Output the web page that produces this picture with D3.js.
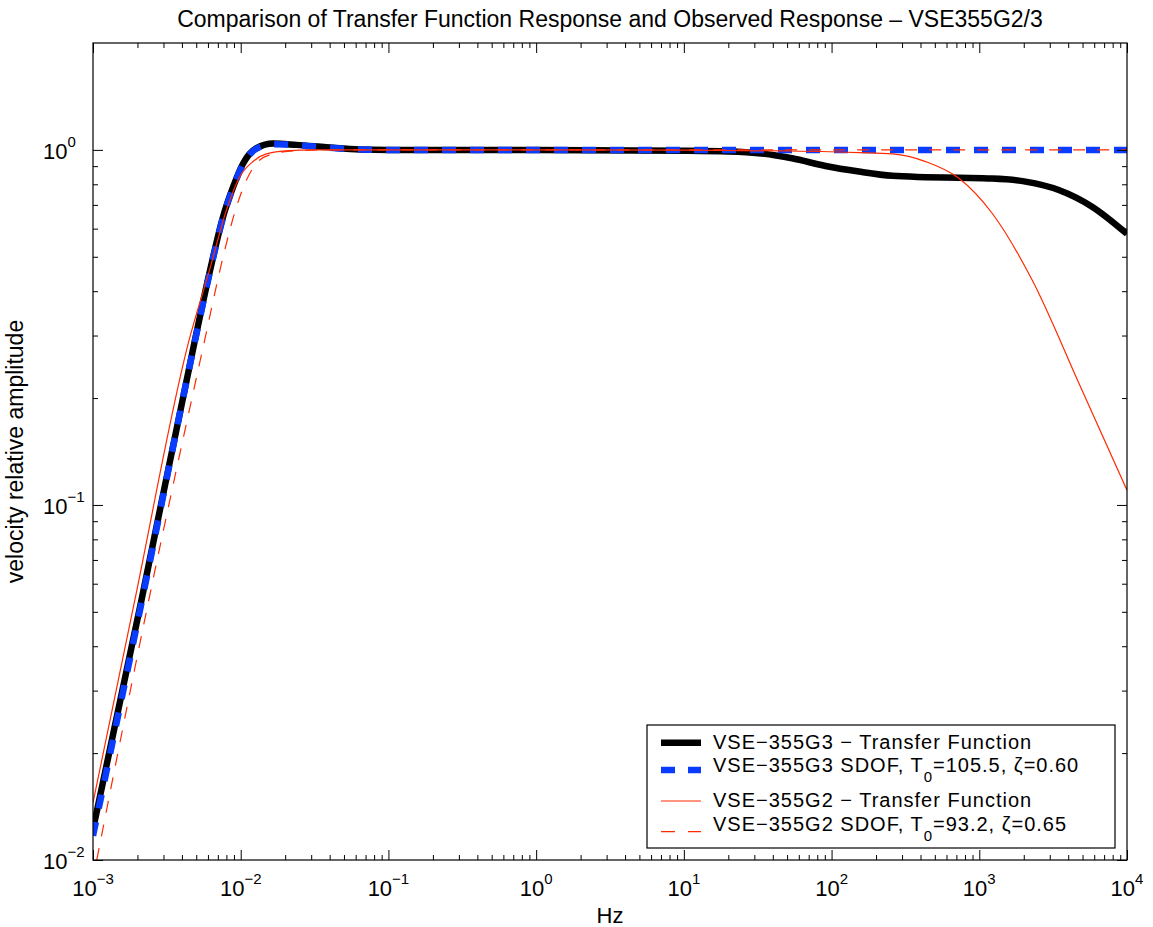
<!DOCTYPE html>
<html>
<head>
<meta charset="utf-8">
<script src="https://cdn.jsdelivr.net/npm/d3@7"></script>
<style>
  body { margin: 0; background: #fff; }
  svg { display: block; }
  text { font-family: "Liberation Sans", Arial, Helvetica, sans-serif; fill: #000; }
</style>
</head>
<body>
<svg id="chart" width="1153" height="927"></svg>
<script>
// ── Data ──────────────────────────────────────────────────────────────────────
// VSE-355G3 transfer function
const G3_TF_HZ  = [1e-3, 2.13e-3, 4.82e-3, 6.18e-3, 7.6e-3, 8.9e-3, 1.04e-2, 1.28e-2, 1.66e-2, 2.38e-2, 3.8e-2, 6.4e-2, 0.1, 1, 10, 20, 32, 54, 91, 153, 258, 433, 728, 1222, 2055, 3451, 5800, 1e4];
const G3_TF_AMP = [0.0122, 0.054, 0.282, 0.455, 0.649, 0.788, 0.917, 1.011, 1.042, 1.033, 1.018, 1.003, 1.0, 1.0, 0.995, 0.99, 0.979, 0.947, 0.901, 0.869, 0.845, 0.838, 0.834, 0.830, 0.814, 0.771, 0.692, 0.58];

// VSE-355G3 SDOF fit
const G3_SDOF_HZ  = [1e-3, 2.13e-3, 4.82e-3, 6.18e-3, 7.6e-3, 8.9e-3, 1.04e-2, 1.28e-2, 1.66e-2, 2.38e-2, 3.8e-2, 6.4e-2, 0.1, 1e4];
const G3_SDOF_AMP = [0.0117, 0.053, 0.28, 0.452, 0.645, 0.785, 0.912, 1.008, 1.038, 1.032, 1.016, 1.003, 1.0, 1.0];

// VSE-355G2 transfer function
const G2_TF_HZ  = [1e-3, 1.92e-3, 4.48e-3, 6.18e-3, 8.02e-3, 9.86e-3, 1.21e-2, 1.49e-2, 2.15e-2, 3e-2, 0.1, 1, 10, 50, 153, 258, 433, 728, 1222, 2280, 4775, 1e4];
const G2_TF_AMP = [0.0145, 0.054, 0.292, 0.462, 0.678, 0.841, 0.927, 0.974, 0.995, 1.0, 1.0, 1.0, 0.998, 0.993, 0.983, 0.974, 0.927, 0.832, 0.663, 0.43, 0.218, 0.11];

// VSE-355G2 SDOF fit
const G2_SDOF_HZ  = [1.06e-3, 2.36e-3, 5.71e-3, 7.6e-3, 9.37e-3, 1.094e-2, 1.28e-2, 1.57e-2, 2.38e-2, 4e-2, 0.1, 1e4];
const G2_SDOF_AMP = [0.01, 0.0528, 0.292, 0.5, 0.692, 0.823, 0.917, 0.968, 0.995, 1.0, 1.0, 1.0];

const X_TICKS  = [1e-3, 1e-2, 1e-1, 1e0, 1e1, 1e2, 1e3, 1e4];
const X_EXPS   = ['\u22123', '\u22122', '\u22121', '0', '1', '2', '3', '4'];
const Y_TICKS  = [1e-2, 1e-1, 1e0];
const Y_EXPS   = ['\u22122', '\u22121', '0'];

const LEGEND_LABELS = [
    ['VSE\u2212355G3 \u2212 Transfer Function'],
    ['VSE\u2212355G3 SDOF, T', '0', '=105.5, \u03b6=0.60'],
    ['VSE\u2212355G2 \u2212 Transfer Function'],
    ['VSE\u2212355G2 SDOF, T', '0', '=93.2, \u03b6=0.65'],
];


// ── Layout ────────────────────────────────────────────────────────────────────
const X0 = 93, X1 = 1127, Y0 = 43, Y1 = 860;
const RED = '#ff2a00', BLUE = '#0a3cff';

const svg = d3.select('#chart');

const x = d3.scaleLog().domain([1e-3, 1e4]).range([X0, X1]);
const y = d3.scaleLog().domain([0.01, 2]).range([Y1, Y0]);

// minor ticks: 2..9 inside every decade
const minorTicks = domain => {
    const out = [];
    const lo = Math.round(Math.log10(domain[0])), hi = Math.ceil(Math.log10(domain[1]));
    for (let e = lo; e < hi; e++)
        for (let k = 2; k <= 9; k++) {
            const v = k * Math.pow(10, e);
            if (v > domain[0] && v < domain[1]) out.push(v);
        }
    return out;
};
const xMinor = minorTicks(x.domain());
const yMinor = minorTicks(y.domain());


// ── Curves ────────────────────────────────────────────────────────────────────
svg.append('defs').append('clipPath').attr('id', 'plot-clip')
    .append('rect').attr('x', X0).attr('y', Y0).attr('width', X1 - X0).attr('height', Y1 - Y0);

const line = d3.line()
    .x(d => x(d[0]))
    .y(d => y(d[1]))
    .curve(d3.curveMonotoneX);

const series = [
    { hz: G3_TF_HZ,   amp: G3_TF_AMP,   color: '#000', width: 6.5, dash: null },
    { hz: G3_SDOF_HZ, amp: G3_SDOF_AMP, color: BLUE,   width: 6.5, dash: '14,14' },
    { hz: G2_TF_HZ,   amp: G2_TF_AMP,   color: RED,    width: 1.2, dash: null },
    { hz: G2_SDOF_HZ, amp: G2_SDOF_AMP, color: RED,    width: 1.2, dash: '12,12' },
];

const plot = svg.append('g').attr('clip-path', 'url(#plot-clip)');
series.forEach(s => {
    plot.append('path')
        .datum(d3.zip(s.hz, s.amp))
        .attr('fill', 'none')
        .attr('stroke', s.color)
        .attr('stroke-width', s.width)
        .attr('stroke-dasharray', s.dash)
        .attr('stroke-linejoin', 'round')
        .attr('d', line);
});


// ── Axes (ticks inward on all four sides) ─────────────────────────────────────
function addAxis(axisFn, scale, values, size, transform) {
    svg.append('g')
        .attr('transform', transform)
        .call(axisFn(scale).tickValues(values).tickSize(-size).tickFormat(''))
        .call(g => g.select('.domain').remove())
        .call(g => g.selectAll('line').attr('stroke', '#000').attr('stroke-width', 1));
}
addAxis(d3.axisBottom, x, X_TICKS, 10, `translate(0,${Y1})`);
addAxis(d3.axisBottom, x, xMinor, 5,   `translate(0,${Y1})`);
addAxis(d3.axisTop,    x, X_TICKS, 10, `translate(0,${Y0})`);
addAxis(d3.axisTop,    x, xMinor, 5,   `translate(0,${Y0})`);
addAxis(d3.axisLeft,   y, Y_TICKS, 10, `translate(${X0},0)`);
addAxis(d3.axisLeft,   y, yMinor, 5,   `translate(${X0},0)`);
addAxis(d3.axisRight,  y, Y_TICKS, 10, `translate(${X1},0)`);
addAxis(d3.axisRight,  y, yMinor, 5,   `translate(${X1},0)`);

svg.append('rect')
    .attr('x', X0).attr('y', Y0)
    .attr('width', X1 - X0).attr('height', Y1 - Y0)
    .attr('fill', 'none').attr('stroke', '#000').attr('stroke-width', 1.2);

// tick labels as 10^n
function powLabel(px, py, exp, anchor) {
    const t = svg.append('text')
        .attr('x', px).attr('y', py)
        .attr('text-anchor', anchor)
        .attr('font-size', 22);
    t.append('tspan').text('10');
    t.append('tspan').attr('dy', -12).attr('font-size', 15).text(exp);
}
X_TICKS.forEach((v, i) => powLabel(x(v), 896, X_EXPS[i], 'middle'));
Y_TICKS.forEach((v, i) => powLabel(43, y(v) + 9, Y_EXPS[i], 'start'));


// ── Titles ────────────────────────────────────────────────────────────────────
svg.append('text')
    .attr('x', (X0 + X1) / 2).attr('y', 27)
    .attr('text-anchor', 'middle')
    .attr('font-size', 23)
    .text('Comparison of Transfer Function Response and Observed Response \u2013 VSE355G2/3');

svg.append('text')
    .attr('x', (X0 + X1) / 2).attr('y', 923)
    .attr('text-anchor', 'middle')
    .attr('font-size', 22)
    .text('Hz');

svg.append('text')
    .attr('transform', `translate(23,${(Y0 + Y1) / 2}) rotate(-90)`)
    .attr('text-anchor', 'middle')
    .attr('font-size', 23)
    .text('velocity relative amplitude');


// ── Legend ────────────────────────────────────────────────────────────────────
const legend = svg.append('g');
legend.append('rect')
    .attr('x', 647).attr('y', 725)
    .attr('width', 468).attr('height', 123)
    .attr('fill', '#fff').attr('stroke', '#000').attr('stroke-width', 1.2);

const ROW_LINE_Y = [742.7, 770, 801, 831.7];
const ROW_TEXT_Y = [749, 772, 807, 831];

series.forEach((s, i) => {
    legend.append('line')
        .attr('x1', 661).attr('x2', 701)
        .attr('y1', ROW_LINE_Y[i]).attr('y2', ROW_LINE_Y[i])
        .attr('stroke', s.color)
        .attr('stroke-width', s.width)
        .attr('stroke-dasharray', s.dash ? '14,13' : null);

    const parts = LEGEND_LABELS[i];
    const t = legend.append('text')
        .attr('x', 713).attr('y', ROW_TEXT_Y[i])
        .attr('font-size', 20)
        .attr('letter-spacing', 1);
    t.append('tspan').text(parts[0]);
    if (parts.length > 1) {
        t.append('tspan').attr('dy', 10).attr('font-size', 15).text(parts[1]);
        t.append('tspan').attr('dy', -10).text(parts[2]);
    }
});
</script>
</body>
</html>
